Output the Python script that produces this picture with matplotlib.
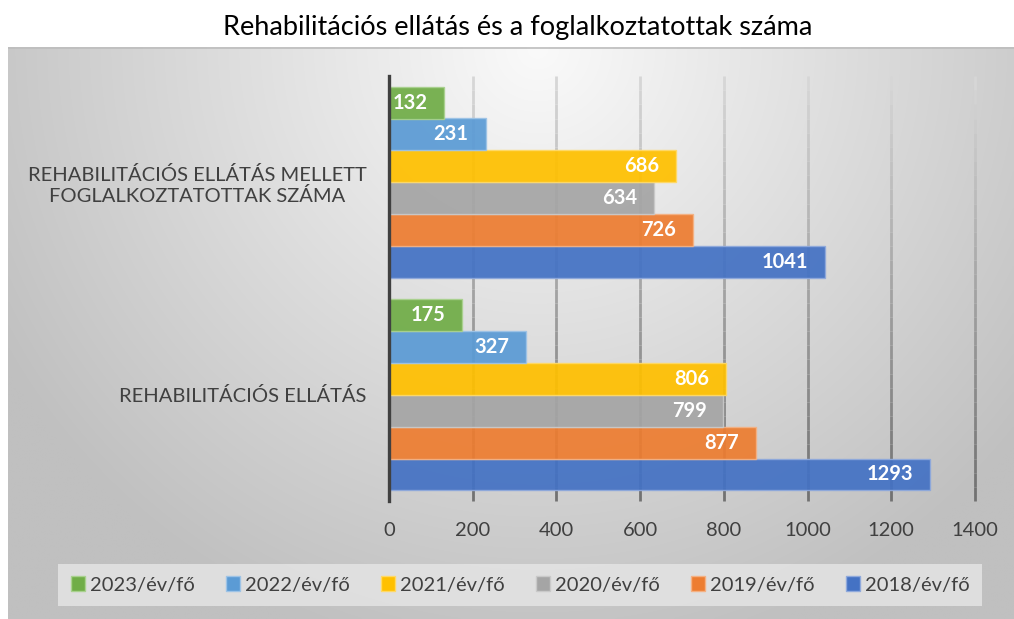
import matplotlib
matplotlib.use("Agg")

import matplotlib.pyplot as plt
import matplotlib.patches as mpatches
from matplotlib.collections import LineCollection
import numpy as np

plt.rcParams["font.family"] = ["Lato", "DejaVu Sans"]

# adatok
categories = ["REHABILITÁCIÓS ELLÁTÁS", "REHABILITÁCIÓS ELLÁTÁS MELLETT\nFOGLALKOZTATOTTAK SZÁMA"]
series_names = ["2018/év/fő", "2019/év/fő", "2020/év/fő", "2021/év/fő", "2022/év/fő", "2023/év/fő"]
values_2018 = [1293, 1041]
values_2019 = [877, 726]
values_2020 = [799, 634]
values_2021 = [806, 686]
values_2022 = [327, 231]
values_2023 = [175, 132]
x_ticks = [0, 200, 400, 600, 800, 1000, 1200, 1400]

series_values = [values_2018, values_2019, values_2020, values_2021, values_2022, values_2023]
colors = ["#4472C4", "#ED7D31", "#A5A5A5", "#FFC000", "#5B9BD5", "#70AD47"]
edge_colors = ["#8fa9dc", "#f4b183", "#c9c9c9", "#ffd966", "#9dc3e6", "#a9d18e"]

W, H = 1014, 619
fig = plt.figure(figsize=(W / 100, H / 100), dpi=100, facecolor="white")

# háttér panel színátmenettel
bg = fig.add_axes([8 / W, 0, (W - 8) / W, (H - 47) / H])
bw, bh = W - 8, H - 47
xx, yy = np.meshgrid(np.linspace(0, bw, 400), np.linspace(0, bh, 240))
r = np.sqrt(((xx - 530) / 620) ** 2 + ((yy - 0) / 620) ** 2)
r = np.clip(r, 0, 1)
shade = (250 - 58 * r) / 255
bg.imshow(np.dstack([shade, shade, shade]), extent=[0, bw, bh, 0], aspect="auto",
          interpolation="bilinear")
bg.set_xlim(0, bw)
bg.set_ylim(bh, 0)
bg.axis("off")
bg.plot([0, bw], [0.5, 0.5], color="#bdbdbd", linewidth=1.2)

fig.text(518 / W, 1 - 28 / H, "Rehabilitációs ellátás és a foglalkoztatottak száma",
         ha="center", va="center", fontsize=19.5, color="#000000")

ax = fig.add_axes([389 / W, 118 / H, 586 / W, 425 / H])
ax.patch.set_alpha(0)

n = len(series_names)
bar_h = 0.15
y_base = np.arange(len(categories))

# rácsvonalak fentről lefelé sötétedő színnel
segs, seg_cols = [], []
y_lo, y_hi = -0.5, 1.5
steps = 30
for xt in x_ticks[1:]:
    for k in range(steps):
        a = y_lo + (y_hi - y_lo) * k / steps
        b = y_lo + (y_hi - y_lo) * (k + 1) / steps
        t = (k + 0.5) / steps  # 0 lent, 1 fent
        g = (112 + (216 - 112) * t) / 255
        segs.append([(xt, a), (xt, b)])
        seg_cols.append((g, g, g))
grid = LineCollection(segs, colors=seg_cols, linewidths=2.0, zorder=1)
grid.set_clip_on(False)
ax.add_collection(grid)

for i, (name, vals) in enumerate(zip(series_names, series_values)):
    ys = y_base + (i - (n - 1) / 2) * bar_h
    bars = ax.barh(ys, vals, height=bar_h, color=colors[i], edgecolor=edge_colors[i],
                   linewidth=1.0, alpha=0.93, label=name, zorder=2)
    for b, v in zip(bars, vals):
        ax.annotate(str(v), xy=(v, b.get_y() + b.get_height() / 2),
                    xytext=(-17, 0), textcoords="offset pixels",
                    ha="right", va="center", color="white", fontsize=14.5,
                    fontweight="bold", zorder=3)

ax.set_xlim(0, 1400)
ax.set_ylim(y_lo, y_hi)
ax.set_xticks(x_ticks)
ax.set_xticklabels([str(t) for t in x_ticks])
ax.set_yticks(y_base)
ax.set_yticklabels(categories, multialignment="center")
ax.tick_params(axis="x", length=0, pad=15, labelsize=14.5, colors="#404040")
ax.tick_params(axis="y", length=0, pad=16, labelsize=14.5, colors="#404040")

for spine in ["top", "right", "bottom"]:
    ax.spines[spine].set_visible(False)
ax.spines["left"].set_color("#404040")
ax.spines["left"].set_linewidth(2.4)
ax.spines["left"].set_zorder(4)

# jelmagyarázat: 2023 -> 2018 sorrendben
handles = [mpatches.Patch(facecolor=colors[i], edgecolor=edge_colors[i], label=series_names[i])
           for i in range(n - 1, -1, -1)]
leg = fig.legend(handles=handles, loc="center", bbox_to_anchor=(520 / W, 1 - 585 / H),
                 ncol=n, fontsize=14.5, frameon=True, handlelength=0.7, handleheight=0.7,
                 handletextpad=0.25, columnspacing=1.55, borderpad=0.6)
frame = leg.get_frame()
frame.set_facecolor("#e6e6e6")
frame.set_alpha(0.8)
frame.set_edgecolor("none")
frame.set_boxstyle("square", pad=0)
for text in leg.get_texts():
    text.set_color("#404040")

plt.savefig("out.png", dpi=100, facecolor="white")
plt.close(fig)
